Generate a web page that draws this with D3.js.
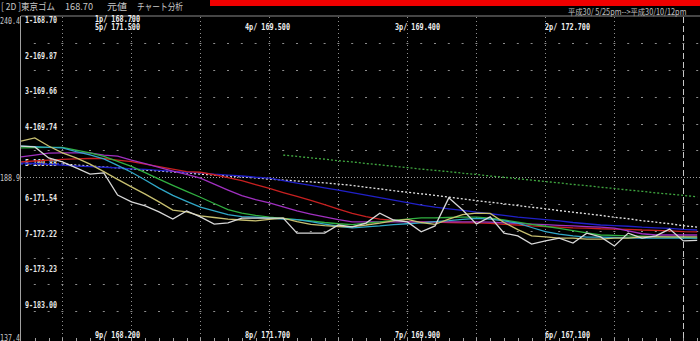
<!DOCTYPE html>
<html>
<head>
<meta charset="utf-8">
<script src="https://cdn.jsdelivr.net/npm/d3@7"></script>
<style>
  body { margin: 0; background: #000; overflow: hidden; }
</style>
</head>
<body>
<script>
// price and moving averages, one value per session
const price = [198.9,198.6,195.1,193.8,191.9,189.9,190.3,183.2,181.0,179.7,
  177.8,175.5,178.1,176.2,173.9,174.3,175.8,175.8,175.8,175.8,
  171.0,171.0,171.0,173.6,173.0,174.2,177.4,175.2,174.6,171.4,
  173.3,182.3,178.4,173.9,176.2,171.0,170.1,167.5,168.5,169.4,
  167.8,171.0,169.8,166.9,171.0,169.4,170.1,172.3,168.5,168.7];
const maKhaki = [200.5,201.5,198.9,196.7,195.1,193.1,190.7,188.2,185.8,183.5,
  181.0,178.4,177.8,176.5,176.0,175.5,175.2,174.9,175.4,175.8,
  174.7,173.8,173.4,173.1,173.1,173.6,174.2,174.9,175.4,174.4,
  173.8,175.5,176.9,177.4,177.3,174.4,172.1,170.1,169.8,169.4,
  169.4,169.1,169.1,169.4,169.4,169.8,169.8,169.8,169.8,169.8];
const maCyan = [198.9,198.7,198.5,198.3,197.1,196.1,194.8,192.7,190.5,188.0,
  185.4,183.1,181.2,179.3,178.1,176.9,176.3,176.1,175.8,175.5,
  175.3,174.7,173.9,173.2,172.7,173.0,173.3,173.7,174.0,174.3,
  174.7,175.0,175.4,175.7,175.5,174.9,174.2,172.8,171.5,170.7,
  170.1,169.7,169.7,169.6,169.5,169.4,169.4,169.4,169.4,169.4];
const maGreen = [198.3,198.4,198.5,198.5,197.6,196.7,195.6,194.0,192.4,190.4,
  188.3,186.3,184.4,182.5,180.5,178.5,177.4,176.7,176.1,175.7,
  175.3,174.9,174.4,174.0,173.7,174.2,174.6,175.1,175.5,175.9,
  175.9,176.0,176.1,176.1,175.8,175.2,174.5,173.8,173.2,172.5,
  171.8,171.1,170.4,170.3,170.1,170.0,169.9,169.7,169.6,169.4];
const maPurple = [195.4,196.0,196.6,196.7,196.7,196.7,196.0,195.7,194.4,193.3,
  192.1,190.9,189.8,188.6,186.7,184.8,183.0,181.7,180.7,179.4,
  178.1,177.1,176.2,175.3,174.6,174.6,174.6,174.6,174.6,174.6,
  174.6,174.6,174.6,174.6,174.5,174.3,174.1,173.9,173.7,173.5,
  173.3,173.1,172.9,172.6,171.7,170.8,170.4,170.4,170.4,170.4];
const maRed = [193.8,194.1,194.4,194.6,194.8,194.9,194.9,194.4,193.9,193.1,
  192.3,191.5,190.7,190.5,189.7,188.8,187.8,186.5,185.3,184.0,
  182.8,181.5,180.1,178.7,177.3,176.3,175.5,175.1,174.7,174.5,
  174.5,174.4,174.3,174.3,174.1,173.8,173.6,173.3,173.1,172.9,
  172.7,172.6,172.4,172.3,172.2,172.0,171.9,171.7,171.5,171.4];
const maBlue = [193.5,193.3,193.0,192.8,192.5,192.3,192.1,191.9,191.6,191.4,
  191.1,190.8,190.5,190.3,189.9,189.6,189.3,188.9,188.6,187.8,
  187.0,186.3,185.5,184.8,184.0,183.2,182.4,181.6,180.8,180.0,
  179.3,178.8,178.3,177.7,177.2,176.7,176.1,175.7,175.3,174.9,
  174.4,174.0,173.6,173.4,173.2,172.9,172.7,172.5,172.2,172.0];
const maLongWhite = [null,null,null,193.2,192.8,192.5,192.2,191.9,191.5,191.2,
  190.9,190.6,190.3,189.9,189.6,189.3,189.0,188.7,188.3,188.0,
  187.7,187.4,187.1,186.7,186.3,185.7,185.2,184.6,184.1,183.6,
  183.1,182.5,182.0,181.4,180.9,180.4,179.8,179.3,178.8,178.2,
  177.7,177.2,176.7,176.1,175.6,175.0,174.5,174.0,173.4,172.9];
const maLongBlue = [193.2,193.2,193.2,193.2];
const maLongGreen = [null,null,null,null,null,null,null,null,null,null,
  null,null,null,null,null,null,null,null,null,196.0,
  195.6,195.1,194.7,194.2,193.8,193.3,192.9,192.4,192.0,191.5,
  191.1,190.7,190.2,189.8,189.3,188.9,188.4,188.0,187.5,187.1,
  186.6,186.2,185.7,185.3,184.8,184.4,183.9,183.5,183.1,182.6];

// labels
const scaleLabels = ["240.4", "188.9", "137.4"];
const rowLabels = ["1-168.70","2-169.87","3-169.66","4-169.74","5-169.88",
  "6-171.54","7-172.22","8-173.23","9-183.00"];
const topLabels = [["1p/ 168.700"], ["5p/ 171.500", "4p/ 169.500", "3p/ 169.400", "2p/ 172.700"]];
const bottomLabels = ["9p/ 168.200", "8p/ 171.700", "7p/ 169.900", "6p/ 167.100"];
const headerParts = ["[ 2D ]東京ゴム", "168.70", "元値", "チャート分析"];
const period = "平成30/ 5/25pm-->平成30/10/12pm";

const width = 700, height = 341;
const n = price.length;
const mono = "'DejaVu Sans Mono', monospace";
const jp = "'Noto Sans CJK JP', sans-serif";

const x = d3.scaleLinear().domain([0, n - 1]).range([21, 697.2]);
const y = d3.scaleLinear().domain([137.4, 240.4]).range([338, 16.5]);
const rowY = d3.scaleLinear().domain([0, rowLabels.length - 1]).range([20, 305]);
const colX = d3.scaleLinear().domain([0, 3]).range([95, 545]);

const svg = d3.select("body").append("svg")
    .attr("width", width)
    .attr("height", height)
    .style("display", "block")
    .style("background", "#000");

// header
svg.append("rect")
    .attr("x", 210).attr("y", 0)
    .attr("width", width - 210).attr("height", 6)
    .attr("fill", "#f00000");

svg.append("g")
  .selectAll("text")
  .data(headerParts)
  .join("text")
    .attr("x", (d, i) => [1, 65, 107, 137][i])
    .attr("y", 10)
    .attr("fill", "#c8c8c8")
    .attr("font-family", jp)
    .attr("font-size", 9.5)
    .attr("textLength", (d, i) => [54, 28, 20, 46][i])
    .attr("lengthAdjust", "spacingAndGlyphs")
    .text(d => d);

// condensed date range, squeezed with a transform so its box stays inside
svg.append("text")
    .attr("transform", "translate(568,14.5) scale(0.86,1)")
    .attr("fill", "#c0c0c0")
    .attr("font-family", jp)
    .attr("font-size", 8.5)
    .text(period);

svg.append("line")
    .attr("x1", 21).attr("x2", width)
    .attr("y1", 16).attr("y2", 16)
    .attr("stroke", "#8a8a8a");

svg.append("line")
    .attr("x1", 20.5).attr("x2", 20.5)
    .attr("y1", 16).attr("y2", height)
    .attr("stroke", "#a0a0a0");

// grid
const gridVals = d3.range(1, 12).map(k => 137.4 + k * (240.4 - 137.4) / 12);
const grid = svg.append("g");

grid.selectAll("g.row")
  .data(gridVals.filter((d, k) => k !== 5))
  .join("g")
  .selectAll("rect")
  .data(v => d3.range(1, n).map(i => [i, v]))
  .join("rect")
    .attr("x", d => x(d[0]) - 1)
    .attr("y", d => Math.round(y(d[1])))
    .attr("width", 2).attr("height", 1)
    .attr("fill", "#8c8c8c");

grid.append("line")
    .attr("x1", 21).attr("x2", width)
    .attr("y1", Math.round(y(188.9)) + 0.5).attr("y2", Math.round(y(188.9)) + 0.5)
    .attr("stroke", "#a0a0a0")
    .attr("stroke-dasharray", "1,2");

const vIdx = d3.range(3, n, 5);
grid.selectAll("line.v")
  .data(vIdx)
  .join("line")
    .attr("x1", i => Math.round(x(i)) + 0.5).attr("x2", i => Math.round(x(i)) + 0.5)
    .attr("y1", 17).attr("y2", i => i === 48 ? height : 338)
    .attr("stroke", i => i === 48 ? "#c8c8c8" : "#909090")
    .attr("stroke-dasharray", i => i === 48 ? "6,3" : "1,3");

grid.selectAll("line.tick")
  .data(d3.range(1, n))
  .join("line")
    .attr("x1", i => Math.round(x(i)) + 0.5).attr("x2", i => Math.round(x(i)) + 0.5)
    .attr("y1", 338).attr("y2", height)
    .attr("stroke", "#a0a0a0");

// scale labels on the left
svg.append("g")
  .selectAll("text")
  .data(scaleLabels)
  .join("text")
    .attr("x", 0)
    .attr("y", d => y(+d) + 3.5 + (d === "240.4" ? 4 : d === "137.4" ? -1 : 0))
    .attr("fill", "#c8c8c8")
    .attr("font-family", mono)
    .attr("font-size", 9)
    .attr("textLength", 20)
    .attr("lengthAdjust", "spacingAndGlyphs")
    .text(d => d);

// row labels
svg.append("g")
  .selectAll("text")
  .data(rowLabels)
  .join("text")
    .attr("x", 25)
    .attr("y", (d, i) => rowY(i) + 3)
    .attr("fill", "#e8e8e8")
    .attr("font-family", mono)
    .attr("font-size", 8)
    .attr("font-weight", "bold")
    .attr("textLength", 32)
    .attr("lengthAdjust", "spacingAndGlyphs")
    .text(d => d);

// p labels
const pLabel = (sel) => sel
    .attr("fill", "#f0f0f0")
    .attr("font-family", mono)
    .attr("font-size", 8)
    .attr("font-weight", "bold")
    .attr("textLength", 45)
    .attr("lengthAdjust", "spacingAndGlyphs");

svg.append("text").attr("x", colX(0)).attr("y", 22).text(topLabels[0][0]).call(pLabel);
svg.append("g").selectAll("text")
  .data(topLabels[1])
  .join("text")
    .attr("x", (d, i) => colX(i))
    .attr("y", 30)
    .text(d => d)
    .call(pLabel);
svg.append("g").selectAll("text")
  .data(bottomLabels)
  .join("text")
    .attr("x", (d, i) => colX(i))
    .attr("y", 337.5)
    .text(d => d)
    .call(pLabel);

// lines
const line = d3.line()
    .defined(d => d != null)
    .x((d, i) => x(i))
    .y(d => y(d));

const series = [
  {values: maLongBlue, color: "#3040ff", dash: "2,2"},
  {values: maLongWhite, color: "#e8e8e8", dash: "2,2"},
  {values: maLongGreen, color: "#40a840", dash: "2,2"},
  {values: maBlue, color: "#2020c8"},
  {values: maRed, color: "#c82020"},
  {values: maPurple, color: "#a030c0"},
  {values: maGreen, color: "#30b040"},
  {values: maCyan, color: "#30a8c8"},
  {values: maKhaki, color: "#c8c070"},
  {values: price, color: "#d8d8d8"}
];

svg.append("g")
    .attr("fill", "none")
  .selectAll("path")
  .data(series)
  .join("path")
    .attr("stroke", d => d.color)
    .attr("stroke-width", 1.3)
    .attr("stroke-dasharray", d => d.dash || null)
    .attr("d", d => line(d.values));
</script>
</body>
</html>
